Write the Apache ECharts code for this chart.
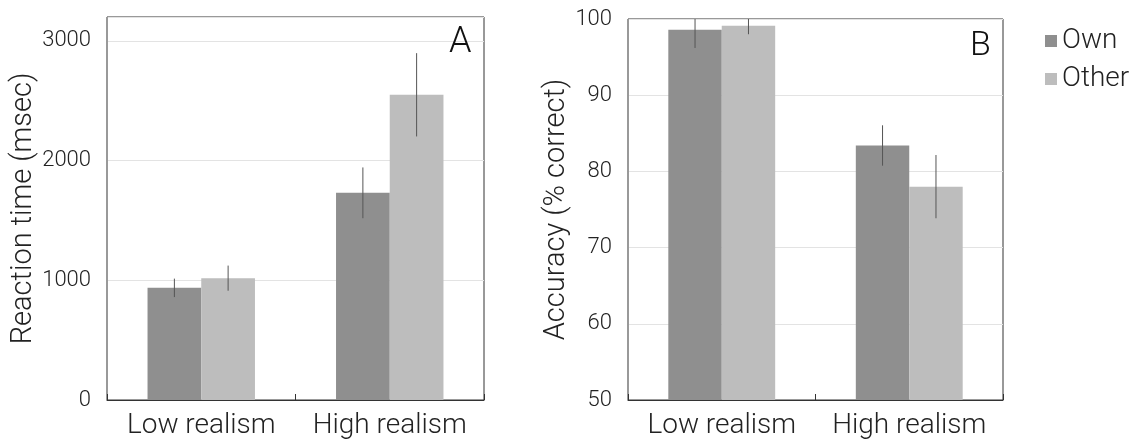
<!DOCTYPE html>
<html>
<head>
<meta charset="utf-8">
<script src="https://cdn.jsdelivr.net/npm/echarts@6/dist/echarts.min.js"></script>
<style>html,body{margin:0;padding:0;background:#fff;}#c{width:1130px;height:443px;}</style>
</head>
<body>
<div id="c"></div>
<script>
var categories = ['Low realism', 'High realism'];
var seriesNames = ['Own', 'Other'];
// Panel A: reaction time (msec)
var rtOwn = [937, 1731];
var rtOther = [1018, 2550];
var rtOwnErr = [77, 212];
var rtOtherErr = [105, 348];
// Panel B: accuracy (% correct)
var accOwn = [98.6, 83.4];
var accOther = [99.1, 78.0];
var accOwnErr = [2.4, 2.65];
var accOtherErr = [1.1, 4.15];
var rtTicks = {min: 0, max: 3200, interval: 1000};
var accTicks = {min: 50, max: 100, interval: 10};

var FONT = 'Roboto';
var TXT = '#222';
var colors = ['#8f8f8f', '#bdbdbd'];
var GAP = 0.43;

function errData(vals, errs) {
  return vals.map(function (v, i) { return [i, v, errs[i]]; });
}
function errRender(side) {
  return function (params, api) {
    var cat = api.value(0), v = api.value(1), e = api.value(2);
    var band = api.size([1, 0])[0];
    var bw = band * (1 - GAP) / 2;
    var c = api.coord([cat, v]);
    var x = c[0] + side * bw / 2;
    var top = api.coord([cat, v + e])[1];
    var bot = api.coord([cat, v - e])[1];
    return {
      type: 'line',
      shape: {x1: x, y1: top, x2: x, y2: bot},
      style: {stroke: '#555', lineWidth: 1}
    };
  };
}
function yAxis(idx, t, name, gap) {
  return {
    type: 'value', gridIndex: idx, min: t.min, max: t.max, interval: t.interval,
    name: name, nameLocation: 'middle', nameGap: gap,
    nameTextStyle: {fontFamily: FONT, fontWeight: 300, fontSize: 29, color: TXT},
    axisLine: {show: true, lineStyle: {color: '#999', width: 1}},
    axisTick: {show: false},
    axisLabel: {fontFamily: FONT, fontWeight: 300, fontSize: 22, color: TXT, margin: 16,
      showMaxLabel: idx === 1, formatter: function (v) { return String(v); }},
    splitLine: {show: true, lineStyle: {color: '#e3e3e3', width: 1}}
  };
}
function xAxis(idx) {
  return {
    type: 'category', gridIndex: idx, data: categories,
    axisLine: {show: true, lineStyle: {color: '#333', width: 1}},
    axisTick: {show: true, inside: true, length: 6, lineStyle: {color: '#333'}},
    axisLabel: {fontFamily: FONT, fontWeight: 300, fontSize: 28, color: TXT, margin: 12,
      interval: 0, hideOverlap: false}
  };
}
function bar(name, data, idx, color) {
  return {
    type: 'bar', name: name, xAxisIndex: idx, yAxisIndex: idx, data: data,
    barGap: '0%', barCategoryGap: (GAP * 100) + '%',
    itemStyle: {color: color}, emphasis: {disabled: true}, z: 2
  };
}
function err(vals, errs, idx, side) {
  return {
    type: 'custom', name: 'err', xAxisIndex: idx, yAxisIndex: idx,
    data: errData(vals, errs), renderItem: errRender(side), clip: true, z: 5,
    silent: true
  };
}

var chart = echarts.init(document.getElementById('c'), null, {renderer: 'canvas'});
chart.setOption({
  animation: false,
  backgroundColor: '#fff',
  grid: [
    {left: 107, top: 17, width: 377, height: 383, show: true, borderColor: '#333', borderWidth: 1, containLabel: false},
    {left: 628, top: 19, width: 375, height: 381, show: true, borderColor: '#333', borderWidth: 1, containLabel: false}
  ],
  title: [
    {text: 'A', left: 444, top: 20, textStyle: {fontFamily: FONT, fontWeight: 300, fontSize: 36, color: '#111'}},
    {text: 'B', left: 965, top: 24, textStyle: {fontFamily: FONT, fontWeight: 300, fontSize: 34, color: '#111'}}
  ],
  legend: {
    data: seriesNames, orient: 'vertical', left: 1040, top: 22,
    icon: 'rect', itemWidth: 12, itemHeight: 12, itemGap: 10,
    textStyle: {fontFamily: FONT, fontWeight: 300, fontSize: 28, color: TXT, padding: [0, 0, 0, 0]}
  },
  xAxis: [xAxis(0), xAxis(1)],
  yAxis: [yAxis(0, rtTicks, 'Reaction time (msec)', 68), yAxis(1, accTicks, 'Accuracy (% correct)', 57)],
  series: [
    bar(seriesNames[0], rtOwn, 0, colors[0]),
    bar(seriesNames[1], rtOther, 0, colors[1]),
    bar(seriesNames[0], accOwn, 1, colors[0]),
    bar(seriesNames[1], accOther, 1, colors[1]),
    err(rtOwn, rtOwnErr, 0, -1),
    err(rtOther, rtOtherErr, 0, 1),
    err(accOwn, accOwnErr, 1, -1),
    err(accOther, accOtherErr, 1, 1)
  ]
});
</script>
</body>
</html>
